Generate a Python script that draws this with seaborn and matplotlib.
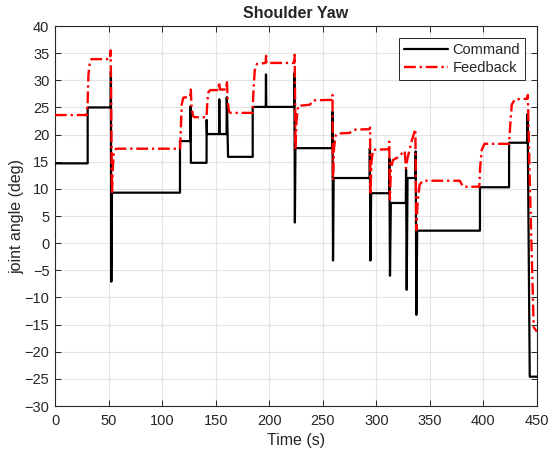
import matplotlib
matplotlib.use("Agg")
import matplotlib.pyplot as plt
import seaborn as sns
import pandas as pd

# Commanded joint angle (deg) over time (s)
cmd_time = [0, 30.5, 30.5, 52.0, 52.2, 52.6, 53.2, 116.7, 116.7, 126.3, 126.5, 126.9,
            141.5, 141.6, 141.9, 153.2, 153.4, 153.7, 160.2, 160.4, 161.6, 184.6, 184.6,
            196.8, 197.0, 197.3, 223.3, 223.5, 224.0, 224.5, 258.9, 259.1, 259.6, 260.2,
            293.8, 294.0, 294.5, 295.2, 312.0, 312.2, 312.8, 313.6, 327.6, 327.8, 328.4,
            329.2, 336.6, 336.8, 337.4, 338.2, 396.8, 396.8, 424.0, 424.0, 441.0, 441.3,
            443.3, 450]
cmd_angle = [14.7, 14.7, 25.0, 25.0, 31.6, -7.1, 9.3, 9.3, 18.8, 18.8, 25.2, 14.8,
             14.8, 22.7, 20.1, 20.1, 26.5, 20.1, 20.1, 26.9, 15.9, 15.9, 25.1,
             25.1, 31.1, 25.1, 25.1, 31.3, 3.8, 17.5, 17.5, 24.2, -3.2, 12.0,
             12.0, 17.5, -3.2, 9.2, 9.2, 15.6, -6.0, 7.4, 7.4, 13.5, -8.6,
             12.0, 12.0, 16.9, -13.2, 2.3, 2.3, 10.3, 10.3, 18.5, 18.5, 23.8,
             -24.6, -24.6]

# Measured joint angle (deg) over time (s)
fb_time = [0, 29.5, 30.5, 31.2, 32.5, 34.0, 51.5, 52.0, 52.6, 53.2, 54.0, 55.0, 57.0,
           116.8, 117.5, 118.3, 119.8, 126.3, 126.8, 127.5, 129.0, 130.0, 141.5, 142.2,
           143.2, 145.0, 152.5, 153.2, 154.0, 160.0, 160.5, 161.3, 162.5, 164.0, 184.5,
           185.3, 186.5, 188.5, 196.7, 197.1, 197.5, 223.5, 223.8, 224.6, 225.5, 227.0,
           238.0, 241.0, 258.8, 259.1, 259.6, 260.5, 262.0, 264.0, 275.0, 279.0, 293.8,
           294.2, 294.6, 295.5, 297.0, 311.8, 312.1, 312.7, 313.6, 315.5, 320.0, 326.5,
           327.7, 329.0, 333.0, 336.5, 337.4, 338.5, 340.5, 343.5, 378.0, 381.0, 396.2,
           397.0, 398.5, 401.0, 424.0, 425.0, 426.5, 429.5, 441.0, 441.5, 443.5, 447.0,
           450.0]
fb_angle = [23.6, 23.6, 26.0, 31.0, 33.3, 33.9, 33.9, 35.5, 22.0, 9.0, 14.0, 16.8, 17.4,
            17.4, 21.0, 25.5, 26.8, 27.0, 28.3, 25.0, 23.4, 23.2, 23.2, 26.0,
            27.8, 28.2, 28.2, 29.7, 28.3, 28.3, 29.9, 26.0, 24.2, 24.0, 24.0,
            28.0, 31.8, 33.0, 33.2, 34.5, 33.2, 33.2, 34.7, 17.2, 22.5, 25.3,
            25.5, 26.3, 26.4, 27.3, 11.6, 17.5, 19.8, 20.2, 20.3, 20.9, 21.0,
            21.3, 8.9, 15.0, 17.2, 17.3, 18.7, 8.0, 13.5, 15.3, 15.8, 17.0,
            13.8, 15.5, 18.8, 21.0, 2.4, 7.5, 10.8, 11.5, 11.5, 10.4, 10.4,
            14.0, 17.2, 18.3, 18.3, 21.5, 25.5, 26.5, 26.6, 27.3, 10.0, -15.5,
            -16.3]

x_ticks = list(range(0, 451, 50))
y_ticks = list(range(-30, 41, 5))

sns.set_style("ticks")
plt.rcParams["font.family"] = ["Liberation Sans", "DejaVu Sans"]

cmd_df = pd.DataFrame({"t": cmd_time, "angle": cmd_angle})
fb_df = pd.DataFrame({"t": fb_time, "angle": fb_angle})

fig = plt.figure(figsize=(5.49, 4.54), dpi=100)
ax = fig.add_axes([0.1002, 0.1057, 0.8778, 0.837])

sns.lineplot(data=cmd_df, x="t", y="angle", estimator=None, sort=False,
             color="black", linewidth=1.6, label="Command", ax=ax, zorder=3)
sns.lineplot(data=fb_df, x="t", y="angle", estimator=None, sort=False,
             color="red", linewidth=1.7, label="Feedback", ax=ax, zorder=4,
             dashes=False)
fb_dash = [5.0, 1.6, 1.0, 1.6]
ax.lines[1].set_dashes(fb_dash)

ax.set_xlim(0, 450)
ax.set_ylim(-30, 40)
ax.set_xticks(x_ticks)
ax.set_yticks(y_ticks)
ax.grid(True, color="#e3e3e3", linewidth=0.8)
ax.set_axisbelow(True)
ax.tick_params(direction="in", length=4, width=0.7, top=True, right=True,
               labelsize=10.5, colors="#262626")
ax.tick_params(axis="x", pad=6)
ax.tick_params(axis="y", pad=4)
for s in ax.spines.values():
    s.set_visible(True)
    s.set_color("#262626")
    s.set_linewidth(0.8)

ax.set_xlabel("Time (s)", fontsize=11.5, color="#262626", labelpad=3)
ax.set_ylabel("joint angle (deg)", fontsize=11.5, color="#262626", labelpad=0)
ax.set_title("Shoulder Yaw", fontsize=11.5, fontweight="bold", pad=6)

leg = ax.legend(loc="upper right", fontsize=10.5, handlelength=3.0,
                fancybox=False, framealpha=1, edgecolor="#262626",
                borderaxespad=0.8, handletextpad=0.3, labelspacing=0.3,
                borderpad=0.35)
leg.get_frame().set_linewidth(0.7)
leg.legend_handles[1].set_dashes(fb_dash)

fig.savefig("out.png", dpi=100)
